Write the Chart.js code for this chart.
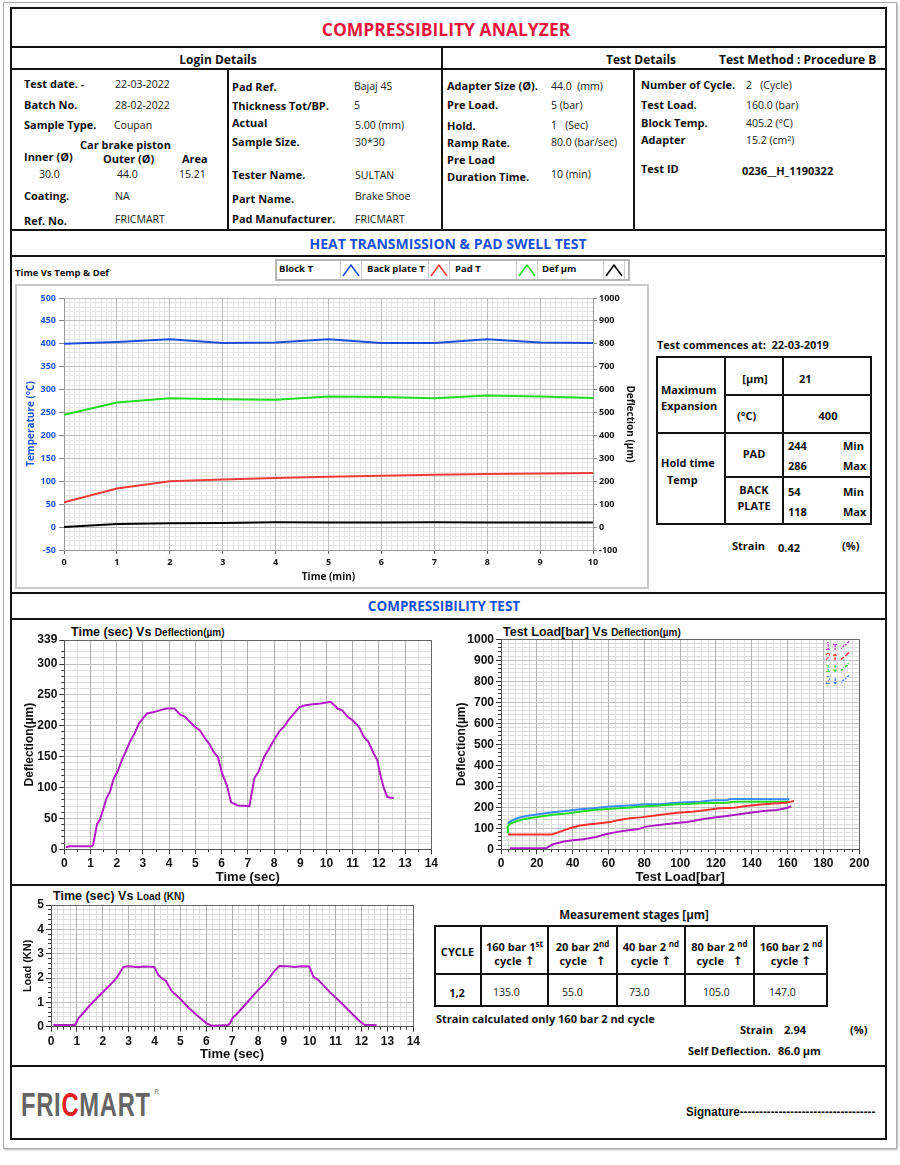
<!DOCTYPE html>
<html><head><meta charset="utf-8">
<script src="https://cdn.jsdelivr.net/npm/chart.js@4.4.1/dist/chart.umd.min.js"></script>
<style>
html,body{margin:0;padding:0;background:#fff;}
#page{position:relative;width:900px;height:1165px;overflow:hidden;font-family:"Open Sans",sans-serif;color:#111;}
.t{position:absolute;white-space:nowrap;line-height:1;transform:translateY(-50%);}
.t.c{transform:translate(-50%,-50%);}
.lb{font-weight:700;font-size:11px;}
.vl{font-weight:400;font-size:10.5px;color:#222;}
.hd{font-weight:700;font-size:12px;}
canvas{position:absolute;}
.sup{font-size:8px;position:relative;top:-4px;}
.ar{font-family:"DejaVu Sans",sans-serif;font-weight:700;font-size:12px;}
.ct{font-family:"Liberation Sans",Arial,sans-serif;font-weight:700;font-size:12.5px;}
.cs{font-family:"Liberation Sans",Arial,sans-serif;font-weight:700;font-size:10px;}
</style></head><body><div id="page"></div>
<script>
// ---------------- DATA ----------------
// Heat transmission & pad swell test (time in min)
const heatTime   = [0,1,2,3,4,5,6,7,8,9,10];
const blockT     = [400,404,410,402,403,410,402,402,410,403,402];
const backPlateT = [54,84,100,104,107,110,112,114,116,117,118];
const padT       = [245,272,281,279,278,285,284,281,287,285,282];
const defUm      = [0,14,17,18,21,20,20,21,20,20,20];

// Time (sec) vs Deflection (µm)
const time1 = [0.06,0.2,1.04,1.1,1.25,1.36,1.48,1.61,1.74,1.89,2.05,2.22,2.34,2.5,2.65,2.85,3.0,3.16,3.38,3.64,3.89,4.2,4.42,4.59,4.78,4.97,5.18,5.35,5.54,5.69,5.86,6.02,6.2,6.36,6.62,7.06,7.25,7.41,7.63,7.82,8.0,8.2,8.39,8.58,8.77,8.96,9.15,9.47,9.78,10.16,10.42,10.6,10.8,11.05,11.24,11.43,11.6,11.77,11.94,12.07,12.19,12.32,12.41,12.57];
const defl1 = [3,5,5,7,41,48,64,83,93,115,128,147,158,174,185,204,212,220,222,225,228,228,218,215,207,199,192,181,170,158,149,123,104,76,71,70,115,126,150,164,177,191,199,211,220,230,233,235,236,239,228,225,215,207,198,182,174,158,144,118,99,85,84,83];

// Test load [bar] vs Deflection (µm)
const load1Up   = [5,25,29,35,40,46,53,59,65,70,76,81,87,93,98,104,107,113,119,126,133,141,148,154,160,162];
const defl1Up   = [5,5,24,37,43,48,59,73,83,89,95,108,114,121,125,130,135,144,151,159,167,176,183,187,198,205];
const load2Up   = [4,28.5,33,38.5,44,50,55,61,66,72,78,85,92.5,100,107,115,122,130,137,145,152,159,162,163.5];
const defl2Up   = [71,71,84,100,113,119,124,130,140,148,152,160,168,175,179,187,195,198,206,213,218,222,227,230];
const load1Down = [161,130,126,118.5,111,103.6,96,89,81,74,66,59,51.5,44,37,29,22,14,9,5,3.7,4];
const defl1Down = [227,227,222,221,219,216,213,208,205,200,195,192,187,179,171,164,156,146,135,121,108,76];
const load2Down = [161,128,126,118.5,111,103.6,96,89,81,74,66,59,51.5,44,37,29,22,14,9,5,3.7];
const defl2Down = [238,240,233,233,227,224,221,214,214,210,206,203,195,191,184,176,168,159,148,132,121];

// Time (sec) vs Load (KN)
const time3 = [0.09,0.93,1.06,1.18,1.51,1.89,2.28,2.54,2.79,2.99,3.37,3.57,3.99,4.15,4.28,4.44,4.66,4.98,5.31,5.63,6.01,6.21,6.85,6.92,7.02,7.17,7.43,7.95,8.33,8.59,8.82,9.11,9.43,9.69,9.98,10.14,10.33,10.52,10.78,10.97,11.3,11.68,11.94,12.13,12.58];
const load3 = [0.07,0.07,0.34,0.48,0.89,1.30,1.71,2.01,2.45,2.48,2.44,2.47,2.45,2.12,1.99,1.88,1.47,1.16,0.78,0.48,0.14,0.04,0.07,0.14,0.37,0.51,0.82,1.44,1.85,2.23,2.49,2.48,2.45,2.48,2.47,2.05,1.92,1.71,1.41,1.23,0.89,0.48,0.21,0.07,0.07];

// Tick labels
const heatXTicks = [0,1,2,3,4,5,6,7,8,9,10];
const heatTempTicks = [-50,0,50,100,150,200,250,300,350,400,450,500];
const heatDefTicks = [-100,0,100,200,300,400,500,600,700,800,900,1000];
const c1XTicks = [0,1,2,3,4,5,6,7,8,9,10,11,12,13,14];
const c1YTicks = [0,50,100,150,200,250,300,339];
const c2XTicks = [0,20,40,60,80,100,120,140,160,180,200];
const c2YTicks = [0,100,200,300,400,500,600,700,800,900,1000];
const c3XTicks = [0,1,2,3,4,5,6,7,8,9,10,11,12,13,14];
const c3YTicks = [0,1,2,3,4,5];

// ---------------- LAYOUT ----------------
const page = document.getElementById('page');
function el(tag, css, html){const e=document.createElement(tag);e.style.cssText=css;if(html!==undefined)e.innerHTML=html;page.appendChild(e);return e;}
function hl(y,x1,x2,w){el('div',`position:absolute;background:#111;left:${x1}px;top:${y-(w||2)/2}px;width:${x2-x1}px;height:${w||2}px;`);}
function vl(x,y1,y2,w){el('div',`position:absolute;background:#111;left:${x-(w||2)/2}px;top:${y1}px;width:${w||2}px;height:${y2-y1}px;`);}
function tx(x,y,html,cls,center,extra){const e=el('div','',html);e.className='t '+(cls||'')+(center?' c':'');e.style.left=x+'px';e.style.top=y+'px';if(extra)e.style.cssText+=extra;return e;}

// frames
el('div','position:absolute;left:3px;top:2px;width:892px;height:1145px;border:1px solid #aaa;box-shadow:1px 1px 2px #bbb;');
el('div','position:absolute;left:10px;top:7px;width:873px;height:1129px;border:2px solid #111;');
hl(47,10,885); hl(69,10,885); hl(230,10,885); hl(256,10,885);
hl(593,10,885); hl(619,10,885); hl(885,10,885); hl(1066,10,885);
vl(442,47,230); vl(228,69,230); vl(634,69,230);

// title & headers
tx(446,30,'COMPRESSIBILITY ANALYZER','',true,'font-weight:700;font-size:17.5px;color:#e8163f;');
tx(218,60,'Login Details','hd',true);
tx(641,60,'Test Details','hd',true);
tx(719,60,'Test Method : Procedure B','hd');

// login / test details
const info = [
 [24,83,'Test date. -','lb'],[115,84,'22-03-2022','vl'],
 [24,104,'Batch No.','lb'],[115,105,'28-02-2022','vl'],
 [24,124,'Sample Type.','lb'],[114,125,'Coupan','vl'],
 [80,144,'Car brake piston','lb'],
 [24,156,'Inner (Ø)','lb'],[103,158,'Outer (Ø)','lb'],[182,158,'Area','lb'],
 [39,174,'30.0','vl'],[117,174,'44.0','vl'],[179,174,'15.21','vl'],
 [24,195,'Coating.','lb'],[115,196,'NA','vl'],
 [24,220,'Ref. No.','lb'],[115,219,'FRICMART','vl'],
 [232,86,'Pad Ref.','lb'],[354,86,'Bajaj 4S','vl'],
 [232,105,'Thickness Tot/BP.','lb'],[354,105,'5','vl'],
 [232,122,'Actual','lb'],[355,125,'5.00 (mm)','vl'],
 [232,141,'Sample Size.','lb'],[355,142,'30*30','vl'],
 [232,174,'Tester Name.','lb'],[355,175,'SULTAN','vl'],
 [232,198,'Part Name.','lb'],[355,196,'Brake Shoe','vl'],
 [232,218,'Pad Manufacturer.','lb'],[355,219,'FRICMART','vl'],
 [447,85,'Adapter Size (Ø).','lb'],[551,86,'44.0&nbsp; (mm)','vl'],
 [447,104,'Pre Load.','lb'],[551,105,'5 (bar)','vl'],
 [447,125,'Hold.','lb'],[551,125,'1&nbsp;&nbsp; (Sec)','vl'],
 [447,142,'Ramp Rate.','lb'],[551,142,'80.0 (bar/sec)','vl'],
 [447,159,'Pre Load','lb'],[447,176,'Duration Time.','lb'],[551,174,'10 (min)','vl'],
 [641,84,'Number of Cycle.','lb'],[746,85,'2&nbsp;&nbsp; (Cycle)','vl'],
 [641,104,'Test Load.','lb'],[746,105,'160.0 (bar)','vl'],
 [641,122,'Block Temp.','lb'],[746,123,'405.2 (°C)','vl'],
 [641,139,'Adapter','lb'],[746,140,'15.2 (cm<span style="font-size:7px;position:relative;top:-3px">2</span>)','vl'],
 [641,168,'Test ID','lb'],[742,170,'0236__H_1190322','lb']
];
info.forEach(a=>tx(a[0],a[1],a[2],a[3]));

// heat header
tx(448,244,'HEAT TRANSMISSION &amp; PAD SWELL TEST','',true,'font-weight:700;font-size:14px;color:#1a4fd8;');
tx(15,273,'Time Vs Temp &amp; Def','',false,'font-weight:700;font-size:9.5px;');
// heat legend
el('div','position:absolute;left:275px;top:259px;width:351px;height:18px;border:2px solid #b5b5b5;background:#fff;');
function icon(x,color){el('div',`position:absolute;left:${x}px;top:261px;width:20px;height:18px;border-left:1px solid #ccc;border-right:1px solid #ccc;`,
 `<svg width="20" height="18"><polyline points="2,15 10,4 18,15" fill="none" stroke="${color}" stroke-width="1.6"/></svg>`);}
tx(279,269,'Block T','',false,'font-weight:700;font-size:9.5px;'); icon(340,'#1c4fd6');
tx(367,269,'Back plate T','',false,'font-weight:700;font-size:9.5px;'); icon(428,'#ef3b3b');
tx(455,269,'Pad T','',false,'font-weight:700;font-size:9.5px;'); icon(516,'#22dd22');
tx(542,269,'Def µm','',false,'font-weight:700;font-size:9.5px;'); icon(603,'#000');
// heat chart frame
el('div','position:absolute;left:15px;top:284px;width:630px;height:301px;border:2px solid #c9c9c9;');

// right panel
tx(657,344,'Test commences at:&nbsp; 22-03-2019','lb');
el('div','position:absolute;left:656px;top:356px;width:212px;height:165px;border:2px solid #111;');
vl(725,356,525); vl(783,356,525);
hl(395,725,872); hl(433,656,872); hl(477,725,872);
const rp = [
 [661,389,'Maximum',0],[661,405,'Expansion',0],[755,378,'[µm]',1],[799,378,'21',0],
 [737,415,'(°C)',0],[828,415,'400',1],
 [661,462,'Hold time',0],[667,479,'Temp',0],
 [754,453,'PAD',1],[788,445,'244',0],[843,445,'Min',0],[788,465,'286',0],[843,465,'Max',0],
 [754,489,'BACK',1],[754,505,'PLATE',1],[788,491,'54',0],[843,491,'Min',0],[788,511,'118',0],[843,511,'Max',0],
 [732,545,'Strain',0],[778,547,'0.42',0],[842,545,'(%)',0]
];
rp.forEach(a=>tx(a[0],a[1],a[2],'lb',a[3]===1));

// compressibility header & chart titles
tx(444,607,'COMPRESSIBILITY TEST','',true,'font-weight:700;font-size:13.5px;color:#1a4fd8;');
tx(71,632,'Time (sec) Vs <span class="cs">Deflection(µm)</span>','ct');
tx(503,632,'Test Load[bar] Vs <span class="cs">Deflection(µm)</span>','ct');
tx(53,896,'Time (sec) Vs <span class="cs">Load (KN)</span>','ct');

// chart2 legend
function lg(y,num,arrow,color){tx(825,y,`<span style="color:${color}">${num}</span><span style="color:${color};font-family:'DejaVu Sans';font-weight:700;font-size:10px">${arrow}</span><svg width="10" height="9" style="margin-left:1px"><line x1="1" y1="8" x2="9" y2="1" stroke="${color}" stroke-width="1.5"/></svg>`,'',false,'font-family:"Liberation Sans",Arial;font-size:10.5px;font-weight:400;');}
lg(646,'1','↑','#b01cc4'); lg(657,'2','↑','#ff3030'); lg(668,'1','↓','#33dd33'); lg(680,'2','↓','#3b82ff');

// measurement table
tx(634,915,'Measurement stages [µm]','lb',true,'font-size:11.5px;');
el('div','position:absolute;left:434px;top:925px;width:390px;height:78px;border:2px solid #111;');
[481,548,617,685,754].forEach(x=>vl(x,925,1007)); hl(974,434,828);
tx(457.5,951,'CYCLE','lb',true);
const hdr1=['160 bar 1<span class="sup">st</span>','20 bar 2<span class="sup">nd</span>','40 bar 2 <span class="sup">nd</span>','80 bar 2 <span class="sup">nd</span>','160 bar 2 <span class="sup">nd</span>'];
const hdr2=['cycle&nbsp;<span class="ar">↑</span>','cycle&nbsp;&nbsp; <span class="ar">↑</span>','cycle&nbsp;<span class="ar">↑</span>','cycle&nbsp;&nbsp; <span class="ar">↑</span>','cycle&nbsp;<span class="ar">↑</span>'];
const hc=[514.5,582.5,651,719.5,791];
hc.forEach((c,i)=>{tx(c,946,hdr1[i],'lb',true);tx(c,961,hdr2[i],'lb',true);});
tx(457,992,'1,2','lb',true);
const stageVals=['135.0','55.0','73.0','105.0','147.0']; const vx=[493,562,629,703,769];
stageVals.forEach((v,i)=>tx(vx[i],992,v,'vl'));
tx(436,1018,'Strain calculated only 160 bar 2 nd cycle','lb');
tx(740,1029,'Strain','lb'); tx(784,1029,'2.94','lb'); tx(850,1029,'(%)','lb');
tx(688,1050,'Self Deflection.','lb'); tx(778,1050,'86.0 µm','lb');

// footer
tx(21,1104,'FRI<span style="color:#e02020">C</span>MART','',false,'font-family:"Liberation Sans",sans-serif;font-weight:700;font-size:33px;color:#666;letter-spacing:1px;transform-origin:0 50%;transform:translateY(-50%) scaleX(0.72);');
tx(154,1091,'R','',false,'font-size:8px;color:#888;');
tx(686,1112,'Signature-----------------------------------','',false,'font-family:"Liberation Sans",sans-serif;font-weight:700;font-size:12px;transform-origin:0 50%;transform:translateY(-50%) scaleX(0.97);');

// ---------------- CHARTS ----------------
function mkCanvas(x,y,w,h){const c=document.createElement('canvas');c.width=w;c.height=h;c.style.left=x+'px';c.style.top=y+'px';c.style.width=w+'px';c.style.height=h+'px';page.appendChild(c);return c;}
function pts(xs,ys){return xs.map((x,i)=>({x:x,y:ys[i]}));}
function setTicks(arr){return s=>{s.ticks=arr.map(v=>({value:v}));};}
const plain = v => String(v);
function minor(pos,min,max,step,tl,color){return {type:'linear',position:pos,min:min,max:max,z:-1,
  ticks:{display:false,stepSize:step,autoSkip:false},
  grid:{color:color||'#e0e0e0',lineWidth:1,drawTicks:tl>0,tickLength:tl||0,tickColor:'#333'},
  border:{display:false},
  afterFit:s=>{if(pos==='bottom'||pos==='top')s.height=0;else s.width=0;}};}
const CF='"Liberation Sans",Arial,sans-serif';
const baseOpts={responsive:false,animation:false,plugins:{legend:{display:false},tooltip:{enabled:false}},
  elements:{point:{radius:0},line:{borderWidth:2,tension:0}}};
function edgeColor(max,major,edge){return c=>(c.tick&&c.tick.value===max)?edge:major;}

// Heat chart
new Chart(mkCanvas(15,284,634,305),{type:'line',
 data:{datasets:[
  {label:'Block T',data:pts(heatTime,blockT),borderColor:'#1c4fd6',xAxisID:'x',yAxisID:'yT'},
  {label:'Back plate T',data:pts(heatTime,backPlateT),borderColor:'#ef3b3b',xAxisID:'x',yAxisID:'yT'},
  {label:'Pad T',data:pts(heatTime,padT),borderColor:'#22dd22',xAxisID:'x',yAxisID:'yT'},
  {label:'Def µm',data:pts(heatTime,defUm),borderColor:'#000',xAxisID:'x',yAxisID:'yD'}]},
 options:Object.assign({},baseOpts,{layout:{padding:{top:14}},
  scales:{
   xm:minor('bottom',0,10,0.1,0,'#e6e6e6'),
   ym:minor('left',-50,500,10,0,'#e6e6e6'),
   x:{type:'linear',position:'bottom',min:0,max:10,afterBuildTicks:setTicks(heatXTicks),
      ticks:{color:'#111',font:{family:'Open Sans',weight:'bold',size:9},padding:3,maxRotation:0,autoSkip:false,callback:plain},
      grid:{color:'#bdbdbd',tickLength:4,tickColor:'#666'},border:{color:'#999'},
      title:{display:true,text:'Time (min)',color:'#111',font:{family:'Open Sans',weight:'bold',size:10},padding:{top:0,bottom:6}},
      afterFit:s=>{s.height=39;}},
   yT:{type:'linear',position:'left',min:-50,max:500,afterBuildTicks:setTicks(heatTempTicks),
      ticks:{color:'#1f55e0',font:{family:'Open Sans',weight:'bold',size:9},padding:3,callback:plain},
      grid:{color:'#bdbdbd',tickLength:5,tickColor:'#888'},border:{color:'#999'},
      title:{display:true,text:'Temperature (°C)',color:'#1f55e0',font:{family:'Open Sans',weight:'bold',size:10},padding:{top:10,bottom:0}},
      afterFit:s=>{s.width=49;}},
   yD:{type:'linear',position:'right',min:-100,max:1000,afterBuildTicks:setTicks(heatDefTicks),
      ticks:{color:'#111',font:{family:'Open Sans',weight:'bold',size:9},padding:2,callback:plain},
      grid:{drawOnChartArea:false,tickLength:4,tickColor:'#888'},border:{color:'#999'},
      title:{display:true,text:'Deflection (µm)',color:'#111',font:{family:'Open Sans',weight:'bold',size:10},padding:{top:13,bottom:0}},
      afterFit:s=>{s.width=56;}}
  }})});

function compScales(o){
 return {
  xm:minor('bottom',o.xmin,o.xmax,o.xminor,3,'#dedede'),
  ym:minor('left',o.ymin,o.ymax,o.yminor,3,'#dedede'),
  x:{type:'linear',position:'bottom',min:o.xmin,max:o.xmax,afterBuildTicks:setTicks(o.xticks),
     ticks:{color:'#111',font:{family:CF,weight:'bold',size:12},padding:o.xpad,maxRotation:0,autoSkip:false,callback:plain},
     grid:{color:edgeColor(o.xmax,'#b0b0b0','#666'),tickLength:5,tickColor:'#333'},border:{color:'#555'},
     title:{display:true,text:o.xtitle,color:'#111',font:{family:CF,weight:'bold',size:13},padding:{top:0,bottom:o.xtpad}},
     afterFit:s=>{s.height=o.xh;}},
  y:{type:'linear',position:'left',min:o.ymin,max:o.ymax,afterBuildTicks:setTicks(o.yticks),
     ticks:{color:'#111',font:{family:CF,weight:'bold',size:12},padding:2,callback:plain},
     grid:{color:edgeColor(o.ymax,'#c2c2c2','#666'),tickLength:5,tickColor:'#333'},border:{color:'#555'},
     title:{display:true,text:o.ytitle,color:'#111',font:{family:CF,weight:'bold',size:o.ytsize},padding:{top:o.ytpad,bottom:0}},
     afterFit:s=>{s.width=o.yw;}}
 };
}

// Chart 1: Time vs Deflection
new Chart(mkCanvas(14,622,426,263),{type:'line',
 data:{datasets:[{data:pts(time1,defl1),borderColor:'#b01cc4',xAxisID:'x',yAxisID:'y'}]},
 options:Object.assign({},baseOpts,{layout:{padding:{top:18,right:7}},
  scales:compScales({xmin:0,xmax:14,xminor:0.5,ymin:0,ymax:339,yminor:10,xticks:c1XTicks,yticks:c1YTicks,
   xtitle:'Time (sec)',ytitle:'Deflection(µm)',ytsize:12,xh:35.7,yw:50.3,xpad:2,xtpad:0,ytpad:8})})});

// Chart 2: Test Load vs Deflection
new Chart(mkCanvas(444,622,436,263),{type:'line',
 data:{datasets:[
  {data:pts(load1Up,defl1Up),borderColor:'#a91cc2',xAxisID:'x',yAxisID:'y'},
  {data:pts(load2Up,defl2Up),borderColor:'#ff3030',xAxisID:'x',yAxisID:'y'},
  {data:pts(load1Down,defl1Down),borderColor:'#22dd22',xAxisID:'x',yAxisID:'y'},
  {data:pts(load2Down,defl2Down),borderColor:'#3b8bff',xAxisID:'x',yAxisID:'y'}]},
 options:Object.assign({},baseOpts,{layout:{padding:{top:17.3,right:20.7}},
  scales:compScales({xmin:0,xmax:200,xminor:4,ymin:0,ymax:1000,yminor:20,xticks:c2XTicks,yticks:c2YTicks,
   xtitle:'Test Load[bar]',ytitle:'Deflection(µm)',ytsize:12,xh:35.7,yw:57,xpad:2,xtpad:0,ytpad:10})})});

// Chart 3: Time vs Load
new Chart(mkCanvas(14,888,416,176),{type:'line',
 data:{datasets:[{data:pts(time3,load3),borderColor:'#b01cc4',xAxisID:'x',yAxisID:'y'}]},
 options:Object.assign({},baseOpts,{layout:{padding:{top:17,right:16.7}},
  scales:compScales({xmin:0,xmax:14,xminor:0.25,ymin:0,ymax:5,yminor:0.2,xticks:c3XTicks,yticks:c3YTicks,
   xtitle:'Time (sec)',ytitle:'Load (KN)',ytsize:11,xh:37.3,yw:37,xpad:3,xtpad:1.5,ytpad:7})})});
</script>
</body></html>
